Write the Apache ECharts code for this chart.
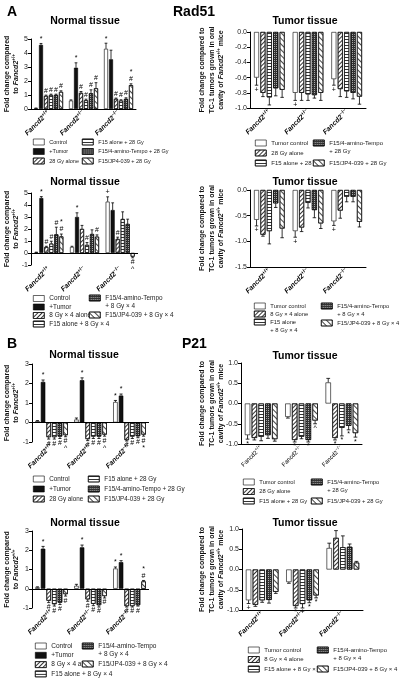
<!DOCTYPE html>
<html><head><meta charset="utf-8">
<script src="https://cdn.jsdelivr.net/npm/echarts@6/dist/echarts.min.js"></script>
<style>html,body{margin:0;padding:0;background:#fff}#c{width:400px;height:684px}</style>
</head><body><div id="c"></div><script>
// ---------- DATA ----------
const groups = ['+/+', '+/\u2212', '\u2212/\u2212'];

const namesNormal28 = ['Control', '+Tumor', '28 Gy alone', 'F15 alone + 28 Gy', 'F15/4-amino-Tempo + 28 Gy', 'F15/JP4-039 + 28 Gy'];
const namesTumor28 = ['Tumor control', '28 Gy alone', 'F15 alone + 28 Gy', 'F15/4-amino-Tempo\n+ 28 Gy', 'F15/JP4-039 + 28 Gy'];
const namesNormal8 = ['Control', '+Tumor', '8 Gy \u00d7 4 alone', 'F15 alone + 8 Gy \u00d7 4', 'F15/4-amino-Tempo\n+ 8 Gy \u00d7 4', 'F15/JP4-039 + 8 Gy \u00d7 4'];
const namesTumor8a = ['Tumor control', '8 Gy \u00d7 4 alone', 'F15 alone\n+ 8 Gy \u00d7 4', 'F15/4-amino-Tempo\n+ 8 Gy \u00d7 4', 'F15/JP4-039 + 8 Gy \u00d7 4'];
const namesTumor8b = ['Tumor control', '8 Gy \u00d7 4 alone', 'F15 alone + 8 Gy \u00d7 4', 'F15/4-amino-Tempo\n+ 8 Gy \u00d7 4', 'F15/JP4-039 + 8 Gy \u00d7 4'];

// Rad51, normal tissue, 28 Gy  (rows = series, columns = genotype groups)
const rad51Normal28Vals = [[0.05, 0.6, 4.3], [4.58, 2.95, 3.55], [0.93, 1.15, 0.72], [1.0, 0.62, 0.6], [1.0, 1.12, 0.72], [1.22, 1.48, 1.7]];
const rad51Normal28Err  = [[0.02, 0.05, 0.4], [0.1, 0.35, 0.65], [0.06, 0.1, 0.06], [0.06, 0.08, 0.06], [0.06, 0.25, 0.08], [0.08, 0.4, 0.1]];
const rad51Normal28Ann  = [['', '', '*'], ['*', '*', ''], ['#', '#', '#'], ['#', '#', '#'], ['#', '#', '#'], ['#', '#', '*\n#']];
// Rad51, tumor tissue, 28 Gy
const rad51Tumor28Vals = [[-0.6, -0.8, -0.62], [-0.8, -0.8, -0.75], [-0.86, -0.82, -0.78], [-0.74, -0.83, -0.8], [-0.76, -0.8, -0.85]];
const rad51Tumor28Err  = [[0.1, 0.1, 0.08], [0.05, 0.1, 0.1], [0.1, 0.08, 0.08], [0.1, 0.04, 0.08], [0.1, 0.1, 0.1]];
const rad51Tumor28Ann  = [['+', '+', '+'], ['', '', ''], ['', '', ''], ['', '', ''], ['', '', '']];
// Rad51, normal tissue, 8 Gy x 4
const rad51Normal8Vals = [[0.05, 0.5, 4.28], [4.58, 3.0, 3.58], [0.5, 2.0, 1.17], [0.78, 0.67, 2.83], [1.55, 1.58, 2.42], [1.38, 1.36, -0.3]];
const rad51Normal8Err  = [[0.02, 0.06, 0.4], [0.12, 0.35, 0.6], [0.06, 0.3, 0.15], [0.2, 0.2, 0.6], [0.6, 0.35, 0.4], [0.2, 0.15, 0.1]];
const rad51Normal8Ann  = [['', '', '+'], ['*', '*', ''], ['#', '', '#'], ['#', '#', ''], ['#', '', ''], ['*\n#', '#', '#\n^']];
// Rad51, tumor tissue, 8 Gy x 4
const rad51Tumor8Vals = [[-0.58, -0.8, -0.61], [-0.87, -0.73, -0.4], [-0.8, -0.25, -0.13], [-0.26, -0.39, -0.13], [-0.75, -0.65, -0.62]];
const rad51Tumor8Err  = [[0.12, 0.12, 0.08], [0.03, 0.08, 0.15], [0.25, 0.1, 0.1], [0.08, 0.15, 0.1], [0.18, 0.1, 0.1]];
const rad51Tumor8Ann  = [['+', '+', '+'], ['', '', ''], ['', '', ''], ['', '', ''], ['', '', '']];
// P21, normal tissue, 28 Gy
const p21Normal28Vals = [[0.07, 0.15, 1.05], [2.08, 2.17, 1.38], [-0.75, -0.85, -0.9], [-0.75, -0.72, -0.72], [-0.72, -0.72, -0.7], [-0.65, -0.62, -0.62]];
const p21Normal28Err  = [[0.03, 0.08, 0.08], [0.1, 0.12, 0.08], [0.1, 0.08, 0.05], [0.1, 0.1, 0.1], [0.1, 0.1, 0.08], [0.08, 0.08, 0.08]];
const p21Normal28Ann  = [['', '', '*'], ['*', '*', '*'], ['#', '#', '#'], ['#', '#', '#'], ['#', '#', '#'], ['#\n^', '#\n^', '#\n*']];
// P21, tumor tissue, 28 Gy
const p21Tumor28Vals = [[-0.78, -0.33, 0.52], [-0.85, -0.9, -0.85], [-0.82, -0.82, -0.6], [-0.78, -0.9, -0.55], [-0.88, -0.42, -0.73]];
const p21Tumor28Err  = [[0.1, 0.03, 0.1], [0.05, 0.05, 0.05], [0.1, 0.05, 0.2], [0.08, 0.05, 0.1], [0.05, 0.08, 0.1]];
const p21Tumor28Ann  = [['*', '', ''], ['', '*', '*'], ['', '', '*'], ['', '*', '*'], ['', '^', '*']];
// P21, normal tissue, 8 Gy x 4
const p21Normal8Vals = [[0.07, 0.15, 1.05], [2.08, 2.15, 1.38], [-0.62, -0.55, -0.9], [-0.8, -0.78, -0.9], [-0.72, -0.85, -0.85], [-0.28, -0.38, 0.38]];
const p21Normal8Err  = [[0.03, 0.08, 0.08], [0.12, 0.12, 0.08], [0.1, 0.1, 0.05], [0.1, 0.1, 0.05], [0.1, 0.1, 0.05], [0.1, 0.1, 0.05]];
const p21Normal8Ann  = [['', '', '*'], ['*', '*', '*'], ['#', '#', '#'], ['#', '#', '#'], ['#', '#', '#'], ['#', '#', '*\n#']];
// P21, tumor tissue, 8 Gy x 4
const p21Tumor8Vals = [[-0.76, -0.31, 0.53], [-0.87, -0.9, 0.78], [-0.76, -0.85, 0.55], [-0.75, -0.76, 0.56], [-0.55, -0.64, 0.17]];
const p21Tumor8Err  = [[0.08, 0.03, 0.12], [0.04, 0.05, 0.18], [0.05, 0.1, 0.28], [0.08, 0.06, 0.07], [0.04, 0.06, 0.03]];
const p21Tumor8Ann  = [['+', '', ''], ['', '*', ''], ['', '+', ''], ['', '*', ''], ['', '*', '']];

// ---------- STYLE / LAYOUT ----------
const FONT = 'Liberation Sans, Arial, sans-serif';
const normalTypes = ['control', 'tumor', 'alone', 'f15', 'tempo', 'jp4'];
const tumorTypes = ['control', 'alone', 'f15', 'tempo', 'jp4'];
const fills = {
  control: {color: '#fff'},
  tumor: {color: '#111'},
  alone: {color: '#fff', decal: {symbol: 'rect', color: '#333', dashArrayX: [1, 0], dashArrayY: [0.7, 1.6], rotation: -Math.PI / 4}},
  f15: {color: '#fff', decal: {symbol: 'rect', color: '#333', dashArrayX: [1, 0], dashArrayY: [0.7, 1.3], rotation: 0}},
  tempo: {color: '#333', decal: {symbol: 'rect', color: '#aaa', dashArrayX: [1, 1], dashArrayY: [1, 1], rotation: 0}},
  jp4: {color: '#fff', decal: {symbol: 'rect', color: '#444', dashArrayX: [1, 0], dashArrayY: [0.5, 2.2], rotation: Math.PI / 4}}
};
const nameNormal = 'Fold change compared\nto {i|Fancd2}{s|+/+}';
const nameTumor = 'Fold change compared to\nTC-1 tumors grown in oral\ncavity of {i|Fancd2}{s|+/+} mice';

const panels = [
  {vals: rad51Normal28Vals, errs: rad51Normal28Err, anns: rad51Normal28Ann, names: namesNormal28, types: normalTypes,
   yMin: 0, yMax: 5, yStep: 1, dec: 0, grid: {left: 31, top: 39, width: 105, height: 70}, bw: 4, gap: 25,
   zero: false, xLine: true, yName: nameNormal, nameGap: 10, lab: 'ital', lf: 5.5,
   legends: [{left: 33, top: 138, gap: 1.5, items: [0, 1, 2]}, {left: 82, top: 138, gap: 1.5, items: [3, 4, 5]}]},
  {vals: rad51Tumor28Vals, errs: rad51Tumor28Err, anns: rad51Tumor28Ann, names: namesTumor28, types: tumorTypes,
   yMin: -1, yMax: 0, yStep: 0.2, dec: 1, grid: {left: 250, top: 32, width: 116, height: 76}, bw: 5, gap: 28,
   zero: false, xLine: true, yName: nameTumor, nameGap: 24, lab: 'ital', lf: 6,
   legends: [{left: 255, top: 139, gap: 2, items: [0, 1, 2]}, {left: 313, top: 131, gap: 4, items: [3, 4]}]},
  {vals: rad51Normal8Vals, errs: rad51Normal8Err, anns: rad51Normal8Ann, names: namesNormal8, types: normalTypes,
   yMin: -1, yMax: 5, yStep: 1, dec: 0, grid: {left: 31, top: 193, width: 107, height: 72}, bw: 4, gap: 25,
   zero: true, xLine: false, yName: nameNormal, nameGap: 10, lab: 'ital', lf: 6.4,
   legends: [{left: 33, top: 294.5, gap: 0.5, items: [0, 1, 2, 3]}, {left: 89, top: 286, gap: 1, items: [4, 5]}]},
  {vals: rad51Tumor8Vals, errs: rad51Tumor8Err, anns: rad51Tumor8Ann, names: namesTumor8a, types: tumorTypes,
   yMin: -1.5, yMax: 0, yStep: 0.5, dec: 1, grid: {left: 250, top: 190, width: 116, height: 77}, bw: 5, gap: 28,
   zero: false, xLine: true, yName: nameTumor, nameGap: 24, lab: 'ital', lf: 5.8,
   legends: [{left: 254, top: 302, gap: 0, items: [0, 1]}, {left: 254, top: 310, gap: 0, items: [2]}, {left: 321, top: 294, gap: 1, items: [3, 4]}]},
  {vals: p21Normal28Vals, errs: p21Normal28Err, anns: p21Normal28Ann, names: namesNormal28, types: normalTypes,
   yMin: -1, yMax: 3, yStep: 1, dec: 0, grid: {left: 32, top: 364, width: 117, height: 78}, bw: 4.5, gap: 25,
   zero: true, xLine: false, yName: nameNormal, nameGap: 11, lab: 'ital', lf: 6.3,
   legends: [{left: 33, top: 475, gap: 2, items: [0, 1, 2]}, {left: 88, top: 475, gap: 2, items: [3, 4, 5]}]},
  {vals: p21Tumor28Vals, errs: p21Tumor28Err, anns: p21Tumor28Ann, names: namesTumor28, types: tumorTypes,
   yMin: -1, yMax: 1, yStep: 0.5, dec: 1, grid: {left: 241, top: 363, width: 121, height: 81}, bw: 5.4, gap: 26,
   zero: false, xLine: true, yName: nameTumor, nameGap: 15, lab: 'plain', lf: 5.8,
   legends: [{left: 243, top: 478, gap: 1.5, items: [0, 1, 2]}, {left: 311, top: 470, gap: 3, items: [3, 4]}]},
  {vals: p21Normal8Vals, errs: p21Normal8Err, anns: p21Normal8Ann, names: namesNormal8, types: normalTypes,
   yMin: -1, yMax: 3, yStep: 1, dec: 0, grid: {left: 32, top: 531, width: 117, height: 77}, bw: 4.5, gap: 25,
   zero: true, xLine: false, yName: nameNormal, nameGap: 11, lab: 'ital', lf: 6.5,
   legends: [{left: 35, top: 642, gap: 1.3, items: [0, 1, 2, 3]}, {left: 82, top: 634, gap: 2, items: [4, 5]}]},
  {vals: p21Tumor8Vals, errs: p21Tumor8Err, anns: p21Tumor8Ann, names: namesTumor8b, types: tumorTypes,
   yMin: -1, yMax: 1, yStep: 0.5, dec: 1, grid: {left: 242, top: 529, width: 121, height: 81}, bw: 5.4, gap: 26,
   zero: false, xLine: true, yName: nameTumor, nameGap: 16, lab: 'ital', lf: 6,
   legends: [{left: 248, top: 646, gap: 1.5, items: [0, 1, 2]}, {left: 317, top: 638, gap: 3, items: [3, 4]}]}
];

const titles = [
  {text: 'A', x: 7, y: 5, size: 14, align: 'left', va: 'top'},
  {text: 'Rad51', x: 173, y: 5, size: 14, align: 'left', va: 'top'},
  {text: 'B', x: 7, y: 337, size: 14, align: 'left', va: 'top'},
  {text: 'P21', x: 182, y: 337, size: 14, align: 'left', va: 'top'},
  {text: 'Normal tissue', x: 85, y: 21, size: 10.5, align: 'center', va: 'middle'},
  {text: 'Tumor tissue', x: 305, y: 21, size: 10.5, align: 'center', va: 'middle'},
  {text: 'Normal tissue', x: 85, y: 182, size: 10.5, align: 'center', va: 'middle'},
  {text: 'Tumor tissue', x: 305, y: 182, size: 10.5, align: 'center', va: 'middle'},
  {text: 'Normal tissue', x: 84, y: 355, size: 10.5, align: 'center', va: 'middle'},
  {text: 'Tumor tissue', x: 305, y: 356, size: 10.5, align: 'center', va: 'middle'},
  {text: 'Normal tissue', x: 85, y: 523, size: 10.5, align: 'center', va: 'middle'},
  {text: 'Tumor tissue', x: 305, y: 523, size: 10.5, align: 'center', va: 'middle'}
];

function errRender(P, i, n) {
  return function (params, api) {
    const k = params.dataIndex;
    const v = P.vals[i][k], e = P.errs[i][k], a = P.anns[i][k];
    const dir = v >= 0 ? 1 : -1;
    const p0 = api.coord([k, v]);
    const p1 = api.coord([k, v + dir * e]);
    const x = p0[0] + (i - (n - 1) / 2) * P.bw * (1 + P.gap / 100);
    const cap = P.bw * 0.35;
    const ch = [];
    if (e > 0) {
      ch.push({type: 'line', shape: {x1: x, y1: p0[1], x2: x, y2: p1[1]}, style: {stroke: '#000', lineWidth: 0.8}});
      ch.push({type: 'line', shape: {x1: x - cap, y1: p1[1], x2: x + cap, y2: p1[1]}, style: {stroke: '#000', lineWidth: 0.8}});
    }
    if (a) {
      ch.push({type: 'text', style: {text: a, x: x, y: p1[1] - dir * 1, align: 'center',
        verticalAlign: dir > 0 ? 'bottom' : 'top', fontSize: 7, lineHeight: 7, fontFamily: FONT, fill: '#000'}});
    }
    return {type: 'group', children: ch};
  };
}

const grid = [], xAxis = [], yAxis = [], series = [], legend = [];
panels.forEach((P, p) => {
  grid.push(Object.assign({outerBoundsMode: 'none', containLabel: false}, P.grid));
  const ital = P.lab === 'ital';
  xAxis.push({
    type: 'category', gridIndex: p, data: groups,
    axisTick: {show: false}, splitLine: {show: false},
    axisLine: {show: P.xLine, onZero: false, lineStyle: {color: '#000', width: 1}},
    axisLabel: {
      interval: 0, rotate: 45, margin: 3, color: '#000',
      formatter: v => '{i|Fancd2}{s|' + v + '}',
      rich: {
        i: {fontStyle: ital ? 'italic' : 'normal', fontWeight: ital ? 'bold' : 'normal', fontSize: ital ? 7 : 6, lineHeight: 9, fontFamily: FONT, color: '#000'},
        s: {fontSize: ital ? 5 : 4.5, fontWeight: ital ? 'bold' : 'normal', verticalAlign: 'top', fontFamily: FONT, color: '#000'}
      }
    }
  });
  yAxis.push({
    type: 'value', gridIndex: p, min: P.yMin, max: P.yMax, interval: P.yStep,
    splitLine: {show: false},
    axisLine: {show: true, onZero: false, lineStyle: {color: '#000', width: 1}},
    axisTick: {show: true, length: 3, lineStyle: {color: '#000'}},
    axisLabel: {fontSize: 7, color: '#222', margin: 3, fontFamily: FONT, formatter: v => P.dec ? v.toFixed(P.dec) : String(v)},
    name: P.yName, nameLocation: 'middle', nameRotate: 90, nameGap: P.nameGap, nameMoveOverlap: false,
    nameTextStyle: {fontSize: 7, fontWeight: 'bold', lineHeight: 9.5, color: '#111', fontFamily: FONT, align: 'center',
      rich: {i: {fontStyle: 'italic', fontWeight: 'bold', fontSize: 7, fontFamily: FONT, color: '#111'},
             s: {fontSize: 4.5, fontWeight: 'bold', verticalAlign: 'top', fontFamily: FONT, color: '#111'}}}
  });
  const n = P.names.length;
  P.vals.forEach((row, i) => {
    const st = fills[P.types[i]];
    const s = {
      type: 'bar', name: P.names[i], xAxisIndex: p, yAxisIndex: p, data: row,
      barWidth: P.bw, barGap: P.gap + '%', z: 2, animation: false, silent: true,
      itemStyle: Object.assign({borderColor: '#000', borderWidth: 0.6}, st)
    };
    if (P.zero && i === 0) {
      s.markLine = {silent: true, symbol: ['none', 'none'], label: {show: false}, animation: false,
        lineStyle: {color: '#000', width: 1, type: 'solid'}, data: [{yAxis: 0}]};
    }
    series.push(s);
    series.push({type: 'custom', xAxisIndex: p, yAxisIndex: p, data: row.map((v, k) => [k, v]),
      encode: {x: 0, y: 1}, renderItem: errRender(P, i, n), z: 5, silent: true, animation: false, clip: false});
  });
  P.legends.forEach(L => {
    legend.push({
      orient: 'vertical', left: L.left, top: L.top, itemGap: L.gap, itemWidth: 11, itemHeight: 6,
      padding: 0, icon: 'rect', selectedMode: false,
      textStyle: {fontSize: P.lf, lineHeight: 8, color: '#222', fontFamily: FONT},
      itemStyle: {borderColor: '#000', borderWidth: 0.6},
      formatter: nm => nm.indexOf('\n') >= 0 ? ' \n' + nm : nm,
      data: L.items.map(k => P.names[k])
    });
  });
});

const graphic = titles.map(t => ({
  type: 'text', x: t.x, y: t.y, silent: true,
  style: {text: t.text, align: t.align, verticalAlign: t.va, fontSize: t.size, fontWeight: 'bold', fontFamily: FONT, fill: '#000'}
}));

const chart = echarts.init(document.getElementById('c'), null, {renderer: 'canvas', width: 400, height: 684});
chart.setOption({
  animation: false,
  backgroundColor: '#fff',
  textStyle: {fontFamily: FONT},
  grid, xAxis, yAxis, series, legend, graphic
});
</script></body></html>
